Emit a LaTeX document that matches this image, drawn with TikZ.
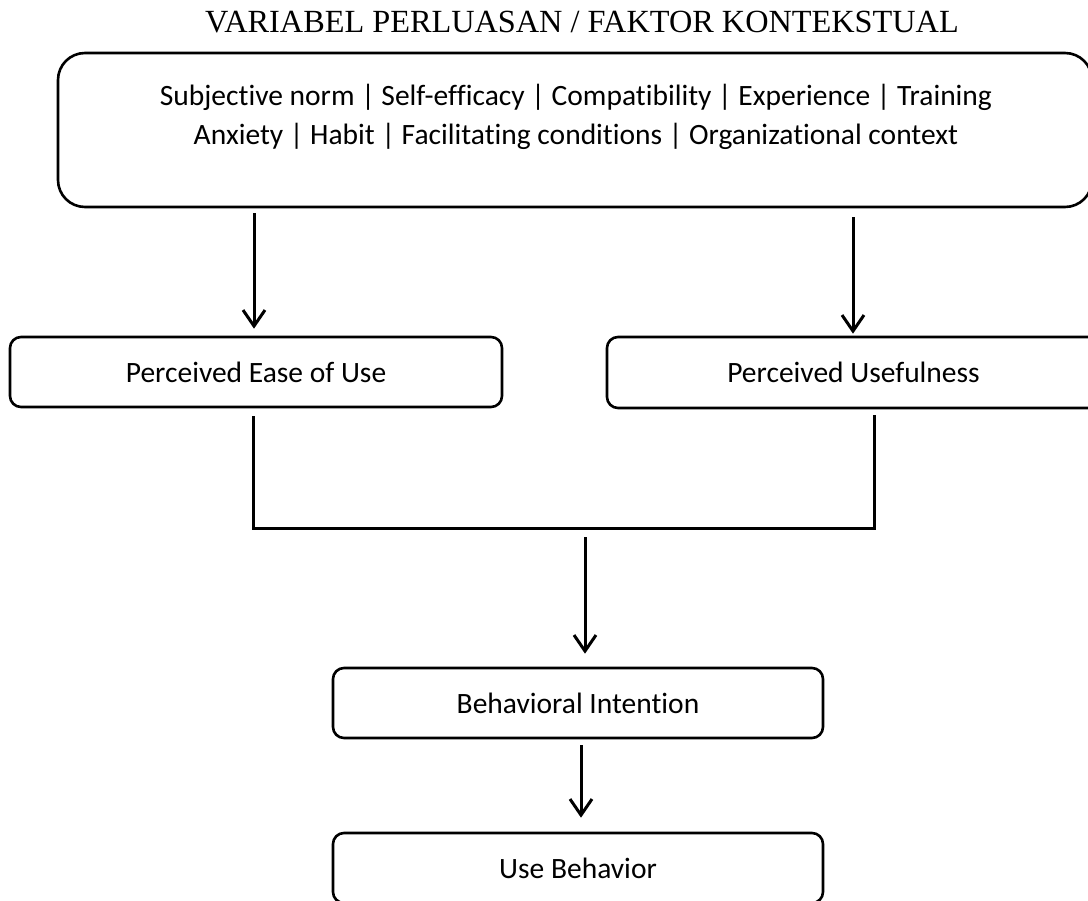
\documentclass[tikz,border=0pt]{standalone}
\usepackage{fontspec}
\setmainfont[Ligatures=NoCommon]{Carlito}
\newfontfamily\titlefont{Liberation Serif}
\usetikzlibrary{arrows.meta}
\begin{document}
\begin{tikzpicture}[x=1pt,y=-1pt,
  box/.style={draw, line width=2.6pt, rounded corners=11pt, inner sep=0pt, font=\fontsize{29.5}{35}\selectfont},
  conn/.style={line width=3pt, line join=miter},
  arr/.style={conn, -{Straight Barb[length=16pt,width=22pt,line width=3pt]}},
  txt/.style={font=\fontsize{29.5}{35}\selectfont, inner sep=0pt, anchor=base}]
\useasboundingbox (0,0) rectangle (1088,901);
\clip (0,0) rectangle (1088,901);

\node[font=\titlefont\fontsize{32.3}{38}\selectfont, anchor=base, inner sep=0pt] (title) at (582,33) {VARIABEL PERLUASAN / FAKTOR KONTEKSTUAL};

\node[box, rounded corners=27pt, minimum width=1034pt, minimum height=154pt] (top) at (575,130) {};
\node[txt] (f1) at (576,106) {Subjective norm | Self-efficacy | Compatibility | Experience | Training};
\node[txt] (f2) at (576,145) {Anxiety | Habit | Facilitating conditions | Organizational context};

\node[box, minimum width=492pt, minimum height=70pt] (peou) at (256,372) {Perceived Ease of Use};
\node[box, minimum width=493pt, minimum height=71pt] (pu) at (853.5,372.5) {Perceived Usefulness};
\node[box, minimum width=490pt, minimum height=70pt] (bin) at (578,703) {Behavioral Intention};
\node[box, minimum width=490pt, minimum height=70pt] (ub) at (578,868) {Use Behavior};

% arrows from the context box
\coordinate (a1s) at ([yshift=-5pt]top.south -| 254,0);
\coordinate (a1e) at ([yshift=7pt]peou.north -| 254,0);
\draw[arr] (a1s) -- (a1e);
\coordinate (a2s) at ([yshift=-9pt]top.south -| 853,0);
\coordinate (a2e) at ([yshift=2pt]pu.north -| 853,0);
\draw[arr] (a2s) -- (a2e);

% joining lines
\coordinate (jl) at (253,528);
\coordinate (jr) at (874,528);
\coordinate (jm) at (585,528);
\coordinate (peous) at ([yshift=-8pt]peou.south);
\coordinate (pus) at ([yshift=-6pt]pu.south);
\draw[conn] (jl |- peous) -- (jl) -- (jr) -- (jr |- pus);

% to behavioral intention
\coordinate (a3s) at ([yshift=-9pt]jm);
\coordinate (binn) at ([yshift=13pt]bin.north);
\draw[arr] (a3s) -- (jm |- binn);

% to use behavior
\coordinate (bins) at ([yshift=-6pt]bin.south -| 581,0);
\coordinate (ubn) at ([yshift=14pt]ub.north -| 581,0);
\draw[arr] (bins) -- (ubn);
\end{tikzpicture}
\end{document}
